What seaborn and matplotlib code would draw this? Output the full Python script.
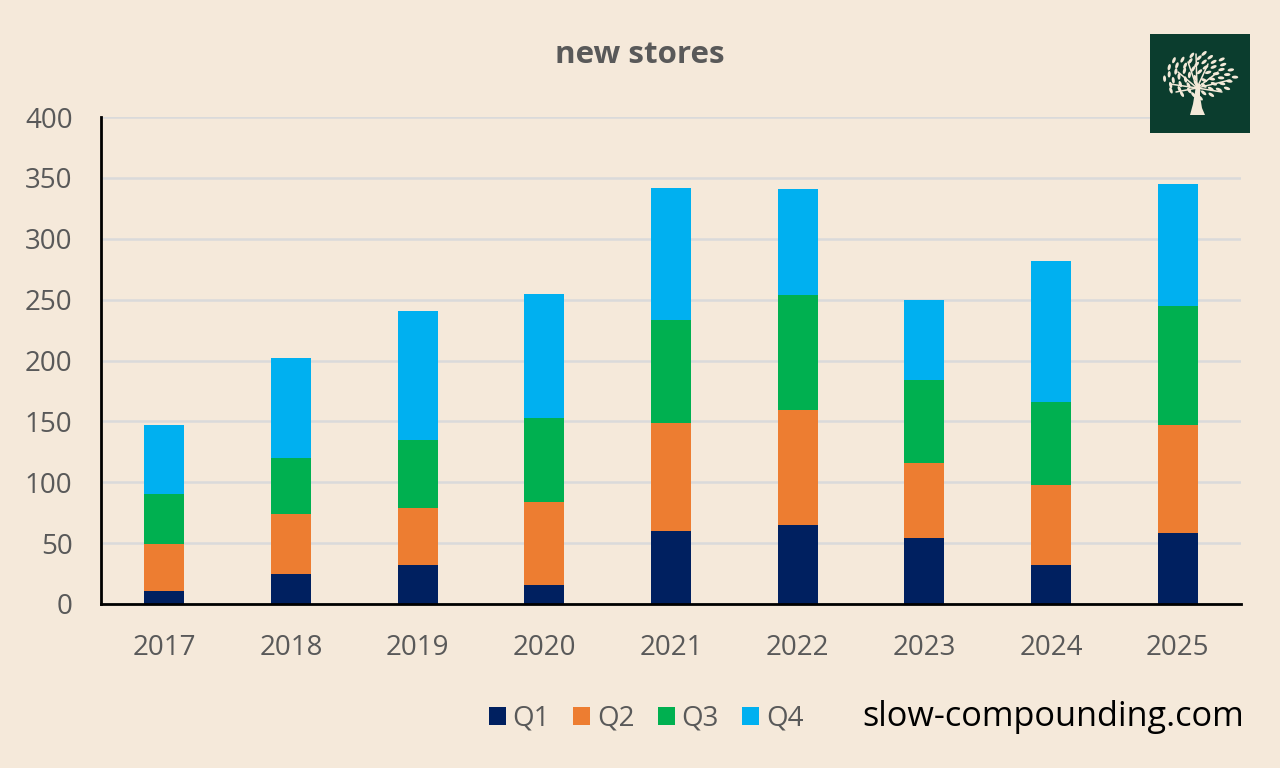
import numpy as np
import pandas as pd
import matplotlib
matplotlib.use("Agg")
import matplotlib.pyplot as plt
from matplotlib.patches import Polygon, Ellipse, Rectangle
from matplotlib.lines import Line2D
import seaborn as sns

years = ["2017", "2018", "2019", "2020", "2021", "2022", "2023", "2024", "2025"]
q1 = [11, 25, 32, 16, 60, 65, 54, 32, 58]
q2 = [38, 49, 47, 68, 89, 94, 62, 66, 89]
q3 = [41, 46, 56, 69, 84, 95, 68, 68, 98]
q4 = [57, 82, 106, 102, 109, 87, 66, 116, 100]
quarters = ["Q1", "Q2", "Q3", "Q4"]
colors = ["#002060", "#ED7D31", "#00B050", "#00B0F0"]

BG = "#F5E9DA"
TEXT = "#595959"
GRID = "#DADADA"
W, H = 1280, 768

sns.set_theme(style="white", rc={"font.family": ["Open Sans", "DejaVu Sans"]})
plt.rcParams["font.family"] = ["Open Sans", "DejaVu Sans"]

fig = plt.figure(figsize=(W / 100, H / 100), dpi=100, facecolor=BG)
ax = fig.add_axes([101 / W, 1 - 604 / H, 1140 / W, 487 / H], facecolor=BG)

# Stack the quarters, each bar starting on the running total
table = pd.DataFrame({"year": years, "Q1": q1, "Q2": q2, "Q3": q3, "Q4": q4})
base = np.zeros(len(years))
for name, color in zip(quarters, colors):
    sns.barplot(data=table, x="year", y=name, order=years, color=color, width=0.315,
                saturation=1, bottom=base, ax=ax, zorder=3, linewidth=0)
    base = base + table[name].to_numpy()

ax.set_xlim(-0.5, 8.5)
ax.set_ylim(0, 400)
ax.set_yticks(range(0, 401, 50))
ax.set_xlabel("")
ax.set_ylabel("")
ax.yaxis.grid(True, color=GRID, linewidth=1.8, zorder=0)
ax.xaxis.grid(False)
ax.set_axisbelow(True)
for side in ("top", "right"):
    ax.spines[side].set_visible(False)
for side in ("left", "bottom"):
    ax.spines[side].set_visible(True)
    ax.spines[side].set_color("black")
    ax.spines[side].set_linewidth(2)
    ax.spines[side].set_zorder(5)
ax.tick_params(axis="both", length=0, labelsize=20, labelcolor=TEXT)
ax.tick_params(axis="x", pad=21.5)
ax.tick_params(axis="y", pad=20.5)
for label in ax.get_yticklabels():
    label.set_horizontalalignment("right")

fig.text(640 / W, 1 - 55 / H, "new stores", ha="center", va="center",
         fontsize=22.5, fontweight="bold", color=TEXT)

# Legend along the bottom
handles = [Rectangle((0, 0), 1, 1, facecolor=c, edgecolor="none") for c in colors]
fig.legend(handles, quarters, loc="center", bbox_to_anchor=(646 / W, 1 - 719 / H), ncol=4,
           frameon=False, fontsize=20, labelcolor=TEXT, handlelength=0.62, handleheight=0.62,
           handletextpad=0.24, columnspacing=0.83, borderpad=0, borderaxespad=0)

fig.text(1244 / W, 1 - 717 / H, "slow-compounding.com", ha="right", va="center",
         fontsize=24.7, color="black")

# Tree emblem, laid out in pixel units
logo = fig.add_axes([1150 / W, 1 - 133 / H, 100 / W, 99 / H], facecolor="#0B3D2E")
logo.set_xlim(1150, 1250)
logo.set_ylim(133, 34)
logo.set_xticks([])
logo.set_yticks([])
for spine in logo.spines.values():
    spine.set_visible(False)
logo.grid(False)
CREAM = "#F3E9D8"
logo.add_patch(Polygon([(1190, 115), (1193, 104), (1195, 92), (1196, 84), (1200, 84), (1200, 96),
                        (1202, 108), (1205, 115)], closed=True, facecolor=CREAM, edgecolor="none"))
centre = (1197, 88)
for end in [(1170, 84), (1178, 72), (1188, 62), (1196, 54), (1208, 64), (1218, 72), (1230, 80), (1222, 92), (1176, 92)]:
    logo.add_line(Line2D([centre[0], end[0]], [centre[1], end[1]], color=CREAM, linewidth=1.1))
golden = np.pi * (3 - np.sqrt(5))
for i in range(1, 58):
    radius = np.sqrt(i / 58)
    angle = i * golden
    x = 1199 + 37 * radius * np.cos(angle)
    y = 76 + 23 * radius * np.sin(angle)
    logo.add_patch(Ellipse((x, y), 6.5, 3.0, angle=np.degrees(angle) * 0.5 % 180,
                           facecolor=CREAM, edgecolor="none"))

fig.savefig("out.png", dpi=100, facecolor=BG)
